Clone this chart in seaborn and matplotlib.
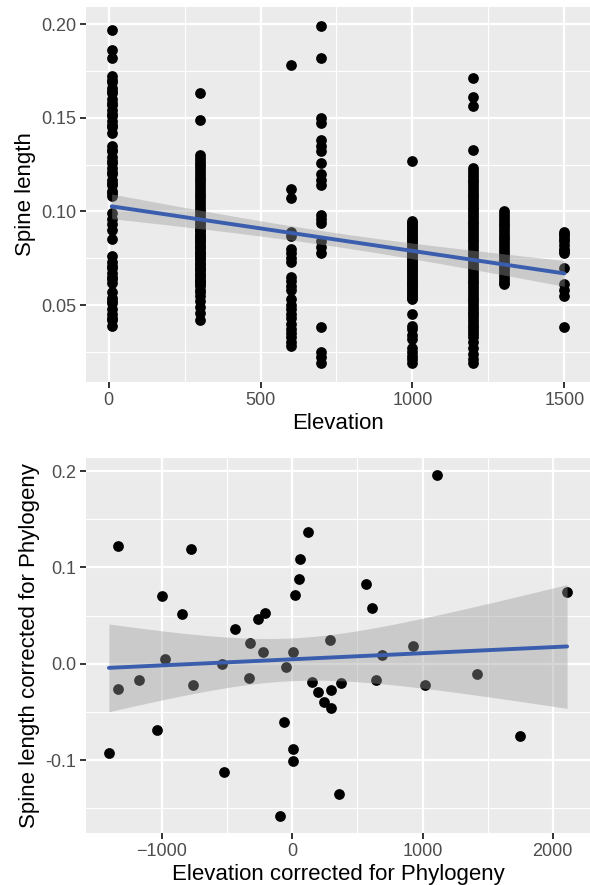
import numpy as np
import pandas as pd
import seaborn as sns
import matplotlib
matplotlib.use("Agg")
import matplotlib.pyplot as plt
from matplotlib.ticker import FixedLocator

# ---------------- data: top panel (raw) ----------------
elevation_levels = [10, 300, 600, 700, 1000, 1200, 1300, 1500]
spine_e10 = [0.197, 0.186, 0.182, 0.172, 0.169, 0.166, 0.163, 0.160, 0.157, 0.154,
             0.151, 0.148, 0.145, 0.142, 0.135, 0.132, 0.129, 0.126, 0.123, 0.120,
             0.117, 0.114, 0.111, 0.108, 0.099, 0.096, 0.093, 0.090, 0.085, 0.076,
             0.073, 0.070, 0.067, 0.064, 0.062, 0.057, 0.054, 0.051, 0.048, 0.045,
             0.042, 0.039,
             0.170, 0.164, 0.158, 0.152, 0.146, 0.133, 0.127, 0.121, 0.115, 0.110,
             0.071, 0.065, 0.052, 0.043]
spine_e300 = [0.163, 0.149, 0.130, 0.127, 0.124, 0.121, 0.118, 0.115, 0.112, 0.109,
              0.106, 0.103, 0.100, 0.097, 0.094, 0.091, 0.088, 0.085, 0.082, 0.079,
              0.076, 0.073, 0.070, 0.067, 0.064, 0.061, 0.058, 0.055, 0.052, 0.049,
              0.046, 0.042, 0.090, 0.087, 0.084, 0.081, 0.078, 0.075, 0.072, 0.069,
              0.066, 0.063, 0.060, 0.057,
              0.1285, 0.1255, 0.1225, 0.1195, 0.1165, 0.1135, 0.1105, 0.1075, 0.1045,
              0.1015, 0.0985, 0.0955, 0.0925, 0.0895, 0.0865, 0.0835, 0.0805, 0.0775,
              0.0745, 0.0715, 0.0685, 0.0655, 0.0625]
spine_e600 = [0.178, 0.112, 0.107, 0.089, 0.087, 0.080, 0.078, 0.075, 0.073, 0.065,
              0.063, 0.060, 0.058, 0.053, 0.050, 0.048, 0.045, 0.043, 0.040, 0.037,
              0.035, 0.033, 0.030, 0.028]
spine_e700 = [0.199, 0.182, 0.150, 0.147, 0.138, 0.135, 0.132, 0.126, 0.120, 0.117,
              0.114, 0.098, 0.096, 0.094, 0.084, 0.081, 0.078, 0.038, 0.025, 0.022,
              0.019]
spine_e1000 = [0.127, 0.095, 0.093, 0.091, 0.089, 0.087, 0.085, 0.083, 0.081, 0.079,
               0.077, 0.075, 0.073, 0.071, 0.069, 0.067, 0.065, 0.063, 0.061, 0.059,
               0.057, 0.055, 0.053, 0.045, 0.039, 0.037, 0.034, 0.032, 0.027, 0.025,
               0.023, 0.021, 0.019,
               0.094, 0.092, 0.090, 0.088, 0.086, 0.084, 0.082, 0.080, 0.078, 0.076,
               0.074, 0.072, 0.070, 0.068, 0.066, 0.064, 0.062, 0.060, 0.058, 0.056,
               0.054]
spine_e1200 = [0.171, 0.161, 0.156, 0.133, 0.123, 0.120, 0.117, 0.114, 0.111, 0.108,
               0.105, 0.102, 0.099, 0.096, 0.093, 0.090, 0.087, 0.084, 0.081, 0.078,
               0.075, 0.072, 0.069, 0.066, 0.063, 0.060, 0.057, 0.054, 0.051, 0.048,
               0.045, 0.042, 0.039, 0.036, 0.033, 0.030, 0.027, 0.024, 0.021, 0.019,
               0.1215, 0.1185, 0.1155, 0.1125, 0.1095, 0.1065, 0.1035, 0.1005, 0.0975,
               0.0945, 0.0915, 0.0885, 0.0855, 0.0825, 0.0795, 0.0765, 0.0735, 0.0705,
               0.0675, 0.0645, 0.0615, 0.0585, 0.0555, 0.0525, 0.0495, 0.0465, 0.0435,
               0.0405, 0.0375, 0.0345]
spine_e1300 = [0.100, 0.097, 0.094, 0.091, 0.088, 0.085, 0.082, 0.079, 0.076, 0.073,
               0.070, 0.067, 0.064, 0.061,
               0.0985, 0.0955, 0.0925, 0.0895, 0.0865, 0.0835, 0.0805, 0.0775, 0.0745,
               0.0715, 0.0685, 0.0655, 0.0625]
spine_e1500 = [0.089, 0.087, 0.085, 0.082, 0.080, 0.078, 0.070, 0.061, 0.058, 0.055,
               0.038, 0.088, 0.084, 0.079]
spine_groups = [spine_e10, spine_e300, spine_e600, spine_e700,
                spine_e1000, spine_e1200, spine_e1300, spine_e1500]

top_xticks = [0, 500, 1000, 1500]
top_yticks = [0.05, 0.10, 0.15, 0.20]
top_yticklabels = ["0.05", "0.10", "0.15", "0.20"]

# ---------------- data: bottom panel (phylogeny corrected) ----------------
elev_corr = [-1408, -1339, -1338, -1178, -1042, -1004, -975, -845, -774, -761,
             -536, -526, -443, -335, -322, -266, -224, -211, -97, -60,
             -52, 3, 3, 5, 23, 49, 56, 120, 154, 195,
             242, 291, 294, 296, 355, 374, 567, 611, 643, 690,
             925, 1019, 1109, 1420, 1752, 2110]
spine_corr = [-0.093, 0.122, -0.026, -0.017, -0.069, 0.070, 0.005, 0.052, 0.119, -0.022,
              0.000, -0.1125, 0.036, -0.015, 0.022, 0.046, 0.012, 0.053, -0.158, -0.060,
              -0.003, -0.088, -0.101, 0.012, 0.071, 0.088, 0.109, 0.137, -0.019, -0.029,
              -0.040, 0.025, -0.027, -0.046, -0.135, -0.020, 0.083, 0.058, -0.017, 0.009,
              0.018, -0.022, 0.196, -0.011, -0.075, 0.075]

bot_xticks = [-1000, 0, 1000, 2000]
bot_yticks = [-0.1, 0.0, 0.1, 0.2]
bot_yticklabels = ["-0.1", "0.0", "0.1", "0.2"]

# ---------------- build frames ----------------
top_df = pd.DataFrame({
    "Elevation": np.concatenate([[lv] * len(g) for lv, g in zip(elevation_levels, spine_groups)]),
    "Spine": np.concatenate(spine_groups),
})
bot_df = pd.DataFrame({"Elev": elev_corr, "Spine": spine_corr})

# ---------------- style ----------------
sns.set_theme(style="darkgrid")
plt.rcParams["font.family"] = ["Liberation Sans", "DejaVu Sans"]
plt.rcParams["axes.unicode_minus"] = True

BG = "#EBEBEB"
LINE = "#3A5DAE"
fig = plt.figure(figsize=(5.9, 8.85), dpi=100)
W, H = 590, 885
ax1 = fig.add_axes([86 / W, 1 - 382 / H, 504 / W, 375 / H])
ax2 = fig.add_axes([86 / W, 1 - 833 / H, 504 / W, 375 / H])


def style_axes(ax, xlim, ylim, xticks, yticks, yticklabels, xminor, yminor, xlabel, ylabel):
    ax.set_facecolor(BG)
    for s in ax.spines.values():
        s.set_visible(False)
    ax.set_xlim(*xlim)
    ax.set_ylim(*ylim)
    ax.set_xticks(xticks)
    ax.set_yticks(yticks)
    ax.set_yticklabels(yticklabels)
    ax.xaxis.set_minor_locator(FixedLocator(xminor))
    ax.yaxis.set_minor_locator(FixedLocator(yminor))
    ax.grid(which="major", color="white", linewidth=1.6)
    ax.grid(which="minor", color="white", linewidth=0.8)
    ax.set_axisbelow(True)
    ax.tick_params(which="major", length=4.5, width=1.4, color="#333333",
                   labelsize=13, labelcolor="#4D4D4D", pad=2.5,
                   bottom=True, left=True)
    ax.tick_params(which="minor", length=0)
    ax.set_xlabel(xlabel, fontsize=16, color="black", labelpad=3)
    ax.set_ylabel(ylabel, fontsize=16, color="black", labelpad=4)


def lm_band(ax, x, y):
    """Analytic 95% confidence band of a linear fit (as ggplot's geom_smooth)."""
    x = np.asarray(x, float)
    y = np.asarray(y, float)
    n = len(x)
    b1, b0 = np.polyfit(x, y, 1)
    resid = y - (b0 + b1 * x)
    s = np.sqrt(np.sum(resid ** 2) / (n - 2))
    xm = x.mean()
    sxx = np.sum((x - xm) ** 2)
    grid = np.linspace(x.min(), x.max(), 100)
    fit = b0 + b1 * grid
    se = s * np.sqrt(1.0 / n + (grid - xm) ** 2 / sxx)
    z = 1.959964
    df = n - 2
    t = z + (z ** 3 + z) / (4 * df) + (5 * z ** 5 + 16 * z ** 3 + 3 * z) / (96 * df ** 2)
    ax.fill_between(grid, fit - t * se, fit + t * se, color=(0.6, 0.6, 0.6),
                    alpha=0.4, linewidth=0, zorder=3)


# top
sns.scatterplot(data=top_df, x="Elevation", y="Spine", color="black", s=60,
                linewidth=0, ax=ax1, zorder=2)
sns.regplot(data=top_df, x="Elevation", y="Spine", scatter=False, ci=None,
            color=LINE, line_kws=dict(lw=2.8, zorder=4), ax=ax1)
lm_band(ax1, top_df["Elevation"], top_df["Spine"])
style_axes(ax1, (-74.5, 1584.5), (0.0089, 0.2091), top_xticks, top_yticks, top_yticklabels,
           [250, 750, 1250], [0.025, 0.075, 0.125, 0.175], "Elevation", "Spine length")

# bottom
sns.scatterplot(data=bot_df, x="Elev", y="Spine", color="black", s=60,
                linewidth=0, ax=ax2, zorder=2)
sns.regplot(data=bot_df, x="Elev", y="Spine", scatter=False, ci=None,
            color=LINE, line_kws=dict(lw=2.8, zorder=4), ax=ax2)
lm_band(ax2, bot_df["Elev"], bot_df["Spine"])
style_axes(ax2, (-1584, 2286), (-0.1757, 0.2137), bot_xticks, bot_yticks, bot_yticklabels,
           [-500, 500, 1500], [-0.15, -0.05, 0.05, 0.15],
           "Elevation corrected for Phylogeny", "Spine length corrected for Phylogeny")

fig.savefig("out.png", dpi=100, facecolor="white")
